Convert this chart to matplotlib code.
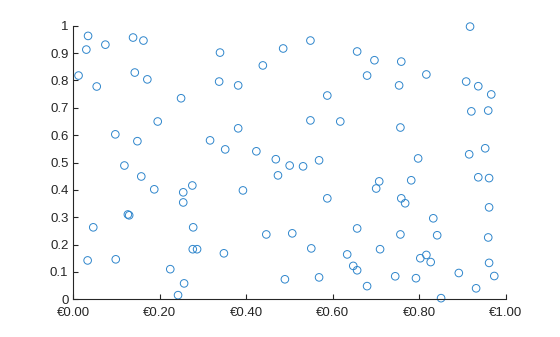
import matplotlib
matplotlib.use("Agg")
import matplotlib.pyplot as plt

x = [0.034, 0.030, 0.012, 0.054, 0.074, 0.138, 0.162, 0.142, 0.171, 0.249,
     0.195, 0.097, 0.148, 0.339, 0.337, 0.381, 0.438, 0.381, 0.316, 0.351,
     0.423, 0.468, 0.485, 0.118, 0.917, 0.548, 0.656, 0.696, 0.758, 0.679,
     0.816, 0.753, 0.908, 0.936, 0.966, 0.587, 0.920, 0.959, 0.548, 0.617,
     0.756, 0.952, 0.915, 0.797, 0.568, 0.500, 0.531, 0.157, 0.187, 0.254,
     0.275, 0.254, 0.126, 0.129, 0.046, 0.277, 0.033, 0.098, 0.276, 0.286,
     0.348, 0.224, 0.256, 0.242, 0.392, 0.446, 0.473, 0.587, 0.707, 0.700,
     0.781, 0.758, 0.767, 0.936, 0.961, 0.961, 0.832, 0.506, 0.656, 0.756,
     0.841, 0.959, 0.550, 0.633, 0.709, 0.647, 0.656, 0.816, 0.802, 0.826,
     0.961, 0.489, 0.568, 0.744, 0.792, 0.891, 0.973, 0.679, 0.931, 0.850]
y = [0.963, 0.913, 0.818, 0.778, 0.931, 0.957, 0.946, 0.829, 0.804, 0.735,
     0.650, 0.603, 0.578, 0.902, 0.796, 0.782, 0.855, 0.625, 0.581, 0.548,
     0.541, 0.512, 0.917, 0.489, 0.997, 0.946, 0.906, 0.874, 0.869, 0.818,
     0.822, 0.782, 0.796, 0.779, 0.749, 0.745, 0.687, 0.690, 0.654, 0.650,
     0.628, 0.552, 0.530, 0.515, 0.508, 0.489, 0.486, 0.449, 0.402, 0.391,
     0.416, 0.354, 0.310, 0.307, 0.263, 0.263, 0.142, 0.146, 0.183, 0.183,
     0.168, 0.110, 0.058, 0.015, 0.398, 0.237, 0.453, 0.369, 0.431, 0.405,
     0.435, 0.369, 0.351, 0.446, 0.443, 0.336, 0.296, 0.241, 0.259, 0.237,
     0.234, 0.226, 0.186, 0.164, 0.183, 0.122, 0.106, 0.162, 0.150, 0.136,
     0.133, 0.073, 0.080, 0.084, 0.077, 0.096, 0.085, 0.048, 0.040, 0.004]

x_ticks = [0, 0.2, 0.4, 0.6, 0.8, 1.0]
x_labels = ["€0.00", "€0.20", "€0.40", "€0.60", "€0.80", "€1.00"]
y_ticks = [0, 0.1, 0.2, 0.3, 0.4, 0.5, 0.6, 0.7, 0.8, 0.9, 1.0]
y_labels = ["0", "0.1", "0.2", "0.3", "0.4", "0.5", "0.6", "0.7", "0.8", "0.9", "1"]

plt.rcParams["font.family"] = ["Liberation Sans", "DejaVu Sans"]
INK = "#262626"

fig = plt.figure(figsize=(5.6, 3.37), dpi=100)
ax = fig.add_axes([0.131, 0.112, 0.7725, 0.8115])
ax.scatter(x, y, s=30, facecolors="none", edgecolors="#2f86cc", linewidths=0.7, clip_on=False)

ax.set_xlim(0, 1)
ax.set_ylim(0, 1)
ax.set_xticks(x_ticks)
ax.set_xticklabels(x_labels)
ax.set_yticks(y_ticks)
ax.set_yticklabels(y_labels)
for side in ("top", "right"):
    ax.spines[side].set_visible(False)
for side in ("left", "bottom"):
    ax.spines[side].set_color(INK)
    ax.spines[side].set_linewidth(0.8)
ax.tick_params(direction="in", length=3.5, width=0.8, colors=INK, labelsize=9.5)
ax.tick_params(axis="x", pad=5.5)
ax.tick_params(axis="y", pad=3.5)

fig.savefig("out.png", dpi=100)
